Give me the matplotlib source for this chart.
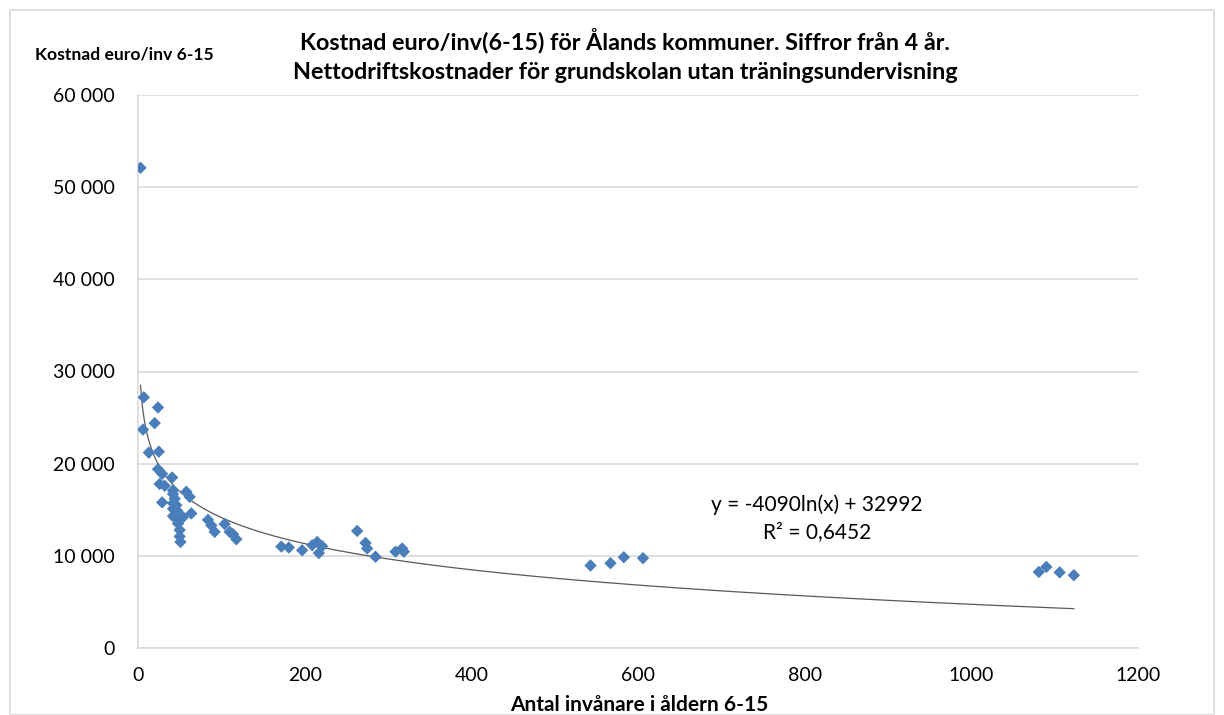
import matplotlib
matplotlib.use("Agg")
import matplotlib.pyplot as plt
from matplotlib.patches import Rectangle
from matplotlib.ticker import FuncFormatter
import numpy as np

plt.rcParams['font.family'] = ['Lato', 'DejaVu Sans']

title = "Kostnad euro/inv(6-15) för Ålands kommuner. Siffror från 4 år.\nNettodriftskostnader för grundskolan utan träningsundervisning"
ylabel = "Kostnad euro/inv 6-15"
xlabel = "Antal invånare i åldern 6-15"

invanare = [3, 7, 6, 13, 20, 24, 25, 24, 29, 26, 32, 29,
            41, 42, 42, 44, 42, 46, 42, 47, 42, 54, 50, 48, 50, 50, 51,
            58, 62, 64, 84, 88, 92, 104, 110, 114, 118,
            172, 181, 197, 209, 215, 221, 217,
            263, 273, 275, 285, 309, 317, 319,
            543, 567, 583, 606,
            1081, 1090, 1106, 1123]
kostnad = [52100, 27200, 23700, 21200, 24400, 26100, 21300, 19400, 18900, 17800, 17600, 15800,
           18500, 17100, 16700, 16200, 15700, 15500, 15100, 14900, 14300, 14200, 13900, 13500, 12800, 12100, 11500,
           16950, 16400, 14600, 13900, 13300, 12600, 13450, 12600, 12350, 11800,
           11000, 10900, 10600, 11150, 11500, 11050, 10300,
           12700, 11400, 10800, 9900, 10450, 10800, 10450,
           8950, 9200, 9850, 9750,
           8250, 8800, 8200, 7900]

trend_a = -4090
trend_b = 32992
r2_text = "R² = 0,6452"
eq_text = "y = -4090ln(x) + 32992"

fig = plt.figure(figsize=(12.24, 7.15), dpi=100)
ax = fig.add_axes([138/1224, 1-648/715, 1000/1224, (648-95)/715])

xs = np.linspace(min(invanare), max(invanare), 500)
ax.plot(xs, trend_a*np.log(xs) + trend_b, color='#595959', lw=0.9, zorder=2)
ax.scatter(invanare, kostnad, marker='D', s=40, color='#4A7EBB', edgecolors='none', zorder=3)

ax.set_xlim(0, 1200)
ax.set_ylim(0, 60000)
ax.set_xticks(range(0, 1201, 200))
ax.set_yticks(range(0, 60001, 10000))
ax.yaxis.set_major_formatter(FuncFormatter(lambda v, p: f"{int(v):,}".replace(",", " ")))
ax.grid(axis='y', color='#D9D9D9', lw=1.2)
ax.set_axisbelow(True)
for s in ['top', 'right']:
    ax.spines[s].set_visible(False)
for s in ['left', 'bottom']:
    ax.spines[s].set_color('#D9D9D9')
    ax.spines[s].set_linewidth(1.2)
ax.tick_params(length=0, labelsize=14, colors='#000000')
ax.tick_params(axis='x', pad=14)
ax.tick_params(axis='y', pad=17)

ax.text(815, 15600, eq_text, fontsize=15, ha='center', va='center')
ax.text(815, 12600, r2_text, fontsize=15, ha='center', va='center')

fig.text(625/1224, 1-55/715, title, ha='center', va='center', fontsize=16.8, fontweight='bold', linespacing=1.5)
fig.text(35/1224, 1-55/715, ylabel, ha='left', va='center', fontsize=12.6, fontweight='bold')
fig.text(639/1224, 1-705/715, xlabel, ha='center', va='center', fontsize=15, fontweight='bold')

fig.patches.append(Rectangle((10/1224, 0), 1-20/1224, 1-10/715, transform=fig.transFigure,
                             fill=False, edgecolor='#D9D9D9', lw=1.2))

fig.savefig("out.png", dpi=100)
